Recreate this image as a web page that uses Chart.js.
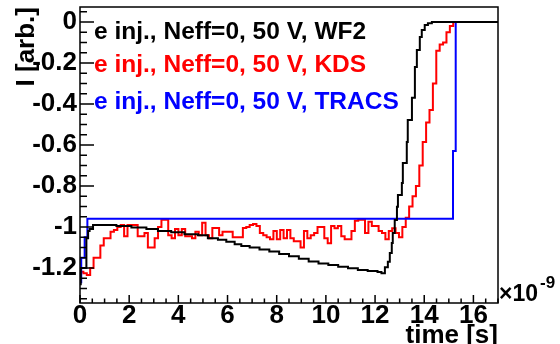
<!DOCTYPE html>
<html>
<head>
<meta charset="utf-8">
<script src="https://cdn.jsdelivr.net/npm/chart.js@4.4.0/dist/chart.umd.min.js"></script>
<style>
    html, body { margin: 0; padding: 0; background: #fff; overflow: hidden; }
    #wrap { position: relative; width: 560px; height: 344px; overflow: hidden; }
    #plot { position: absolute; left: 0; top: 0; }
    .txt {
        position: absolute;
        font-family: "Liberation Sans", Arial, sans-serif;
        font-weight: bold;
        white-space: nowrap;
    }
    .legend { left: 94px; font-size: 24.5px; line-height: 24.5px; }
    #ytitle {
        left: 12px; top: 107px; width: 100px; text-align: right;
        font-size: 26px; line-height: 26px;
        transform-origin: 0 0; transform: rotate(-90deg);
    }
    #xtitle { right: 62px; top: 321px; font-size: 26px; line-height: 26px; }
    #xexp { left: 499px; top: 282px; font-size: 23px; line-height: 23px; }
    #xexp sup { position: absolute; left: 41px; top: -8px; font-size: 17px; line-height: 17px; }
</style>
</head>
<body>
<div id="wrap">
    <canvas id="plot" width="560" height="344"></canvas>
    <div class="txt legend" style="top:19px; color:#000;">e inj., Neff=0, 50 V, WF2</div>
    <div class="txt legend" style="top:52px; color:#ff0000;">e inj., Neff=0, 50 V, KDS</div>
    <div class="txt legend" style="top:89px; color:#0000ff;">e inj., Neff=0, 50 V, TRACS</div>
    <div class="txt" id="ytitle">I [arb.]</div>
    <div class="txt" id="xtitle">time [s]</div>
    <div class="txt" id="xexp">×10<sup>-9</sup></div>
</div>
<script>
// times in ns, currents normalised (arb. units)

// WF2 simulation: step edges and levels
const wf2Time = [0, 0.03, 0.26, 0.33, 0.39, 0.53, 1.48, 2.09, 2.7, 3.17, 3.71, 4.25, 4.8, 5.2, 5.61, 5.95,
    6.29, 6.56, 6.9, 7.3, 7.7, 8.1, 8.5, 8.9, 9.3, 9.7, 10.1, 10.5, 10.9, 11.3, 11.7, 12.1, 12.26,
    12.4, 12.52, 12.6, 12.68, 12.72, 12.8, 12.89, 12.93, 13.09, 13.13, 13.29, 13.33, 13.5, 13.62,
    13.7, 13.82, 13.9, 14.02, 14.15, 14.31, 17];
const wf2Current = [-1.28, -1.2, -1.055, -1.02, -1.01, -0.99, -0.995, -1.003, -1.01, -1.02, -1.026, -1.036, -1.04, -1.055, -1.062, -1.072,
    -1.085, -1.093, -1.1, -1.11, -1.12, -1.132, -1.143, -1.155, -1.168, -1.178, -1.186, -1.194, -1.202, -1.21, -1.215, -1.22, -1.226,
    -1.196, -1.17, -1.127, -1.078, -1.03, -0.966, -0.902, -0.844, -0.785, -0.688, -0.585, -0.478, -0.37, -0.22,
    -0.137, -0.073, -0.039, -0.015, -0.006, 0, 0];

// KDS: fixed-width histogram bins starting at t = 0
const kdsBinWidth = 0.138;
const kdsCurrent = [
    -1.218, -1.226, -1.234, -1.2, -1.15, -1.15, -1.09, -1.055, -1.055, -1.023,
    -1.015, -1.0, -0.99, -1.045, -0.99, -0.99, -0.99, -1.045, -1.045, -1.03,
    -1.1, -1.1, -1.055, -1.0, -0.965, -0.965, -1.04, -1.055, -1.01, -1.04,
    -1.01, -1.045, -1.045, -1.055, -1.023, -1.04, -0.98, -1.04, -1.055, -1.005,
    -1.005, -1.04, -1.023, -1.023, -1.023, -1.05, -1.05, -1.05, -1.005, -1.0,
    -0.99, -0.985, -0.995, -1.03, -1.04, -1.05, -1.06, -1.02, -1.06, -1.015,
    -1.055, -1.015, -1.055, -1.07, -1.07, -1.1, -1.02, -1.055, -1.04, -1.03,
    -1.0, -1.0, -1.055, -1.08, -0.995, -1.006, -0.995, -1.045, -1.06, -1.06,
    -1.02, -0.97, -0.965, -0.965, -1.03, -0.975, -0.995, -0.995, -1.02, -1.03,
    -1.06, -1.02, -1.006, -1.03, -1.05, -1.0, -0.955, -0.9, -0.85, -0.8,
    -0.7, -0.585, -0.49, -0.43, -0.3, -0.14, -0.11, -0.1, -0.05, -0.02,
    0, 0, 0, 0
];

// TRACS: step edges and levels
const tracsTime = [0, 0.05, 0.19, 0.3, 15.17, 15.28, 17];
const tracsCurrent = [-1.27, -1.15, -1.05, -0.96, -0.63, 0, 0];

const xTickValues = [0, 2, 4, 6, 8, 10, 12, 14, 16];
const yTickValues = [0, -0.2, -0.4, -0.6, -0.8, -1, -1.2];

const X_MIN = 0, X_MAX = 17;
const Y_MIN = -1.371, Y_MAX = 0.073;

const toPoints = (times, values) => times.map((t, i) => ({ x: t, y: values[i] }));

const histPoints = (width, values) => {
    const pts = values.map((v, i) => ({ x: i * width, y: v }));
    // closing edge of the last bin
    pts.push({ x: values.length * width, y: values[values.length - 1] });
    return pts;
};

const tickFont = { family: '"Liberation Sans", Arial, sans-serif', size: 26, weight: 'bold' };

// keep the plot frame where the layout padding puts it
const noLabelPadding = (scale) => {
    scale.paddingTop = 0;
    scale.paddingBottom = 0;
    scale.paddingLeft = 0;
    scale.paddingRight = 0;
};

// frame plus ROOT-style ticks pointing into the plot
const frameTicks = {
    id: 'frameTicks',
    afterDatasetsDraw(chart) {
        const { ctx, chartArea: a, scales: { x, y } } = chart;
        ctx.save();
        ctx.strokeStyle = '#000';
        ctx.lineWidth = 1.5;

        ctx.beginPath();
        for (let i = 0; i <= 34; i++) {
            const px = x.getPixelForValue(i * 0.5);
            const len = i % 4 === 0 ? 8 : 4.5;
            ctx.moveTo(px, a.bottom);
            ctx.lineTo(px, a.bottom - len);
        }
        for (let i = -27; i <= 1; i++) {
            const py = y.getPixelForValue(i * 0.05);
            const len = i % 4 === 0 ? 14 : 7;
            ctx.moveTo(a.left, py);
            ctx.lineTo(a.left + len, py);
        }
        ctx.stroke();

        ctx.strokeRect(a.left, a.top, a.right - a.left, a.bottom - a.top);
        ctx.restore();
    }
};

const lineStyle = (color, order) => ({
    borderColor: color,
    borderWidth: 2,
    stepped: 'before',
    pointRadius: 0,
    fill: false,
    tension: 0,
    order: order
});

new Chart(document.getElementById('plot'), {
    type: 'line',
    data: {
        datasets: [
            { label: 'WF2', data: toPoints(wf2Time, wf2Current), ...lineStyle('#000000', 0) },
            { label: 'KDS', data: histPoints(kdsBinWidth, kdsCurrent), ...lineStyle('#ff0000', 2) },
            { label: 'TRACS', data: toPoints(tracsTime, tracsCurrent), ...lineStyle('#0000ff', 1) }
        ]
    },
    options: {
        responsive: false,
        animation: false,
        devicePixelRatio: 1,
        layout: { padding: { top: 7, right: 62, left: 0, bottom: 0 } },
        plugins: {
            legend: { display: false },
            tooltip: { enabled: false }
        },
        scales: {
            x: {
                type: 'linear',
                min: X_MIN,
                max: X_MAX,
                grid: { display: false, drawTicks: false },
                border: { display: false },
                afterFit: (scale) => { scale.height = 41; noLabelPadding(scale); },
                afterBuildTicks: (scale) => { scale.ticks = xTickValues.map(v => ({ value: v })); },
                ticks: {
                    color: '#000',
                    font: tickFont,
                    padding: -3,
                    maxRotation: 0,
                    autoSkip: false,
                    callback: (v) => String(v)
                }
            },
            y: {
                type: 'linear',
                min: Y_MIN,
                max: Y_MAX,
                grid: { display: false, drawTicks: false },
                border: { display: false },
                afterFit: (scale) => { scale.width = 80; noLabelPadding(scale); },
                afterBuildTicks: (scale) => { scale.ticks = yTickValues.map(v => ({ value: v })); },
                ticks: {
                    color: '#000',
                    font: tickFont,
                    padding: 3,
                    autoSkip: false,
                    callback: (v) => String(Math.round(v * 10) / 10)
                }
            }
        }
    },
    plugins: [frameTicks]
});
</script>
</body>
</html>
